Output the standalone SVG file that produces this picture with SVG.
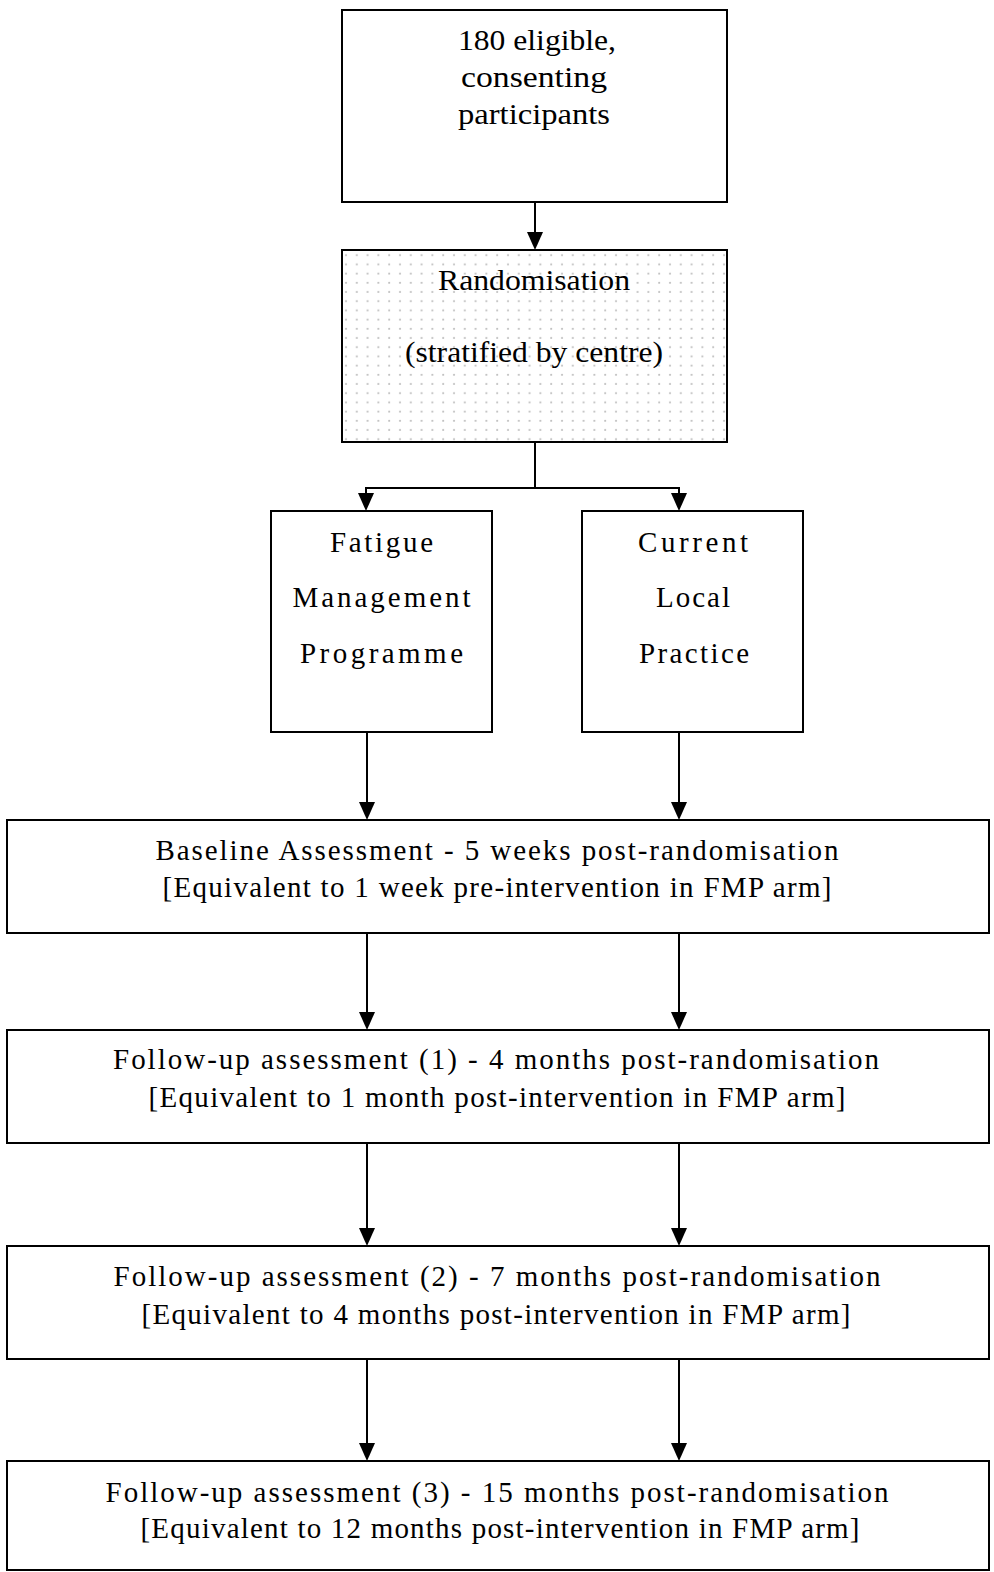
<svg xmlns="http://www.w3.org/2000/svg" width="994" height="1572" viewBox="0 0 994 1572">
<style>
.box{fill:#fff;stroke:#000;stroke-width:2}
.t{font-family:'Liberation Serif','Times New Roman',serif;font-size:29px;fill:#000;text-anchor:middle}
.c{fill:none;stroke:#000;stroke-width:2}
</style>
<defs>
<pattern id="dots" x="341" y="379.5" width="10.8" height="9.2" patternUnits="userSpaceOnUse">
<rect width="10.8" height="9.2" fill="#fff"/>
<circle cx="5" cy="4.5" r="1" fill="#bdbdbd"/>
</pattern>
</defs>
<g id="connectors">
<path class="c" d="M535,202 V232"/><path d="M527,232 L543,232 L535,250 Z"/>
<path class="c" d="M535,442 V488 M366,488 H679"/>
<path class="c" d="M366,487 V493"/><path d="M358,493 L374,493 L366,511 Z"/>
<path class="c" d="M679,487 V493"/><path d="M671,493 L687,493 L679,511 Z"/>
<path class="c" d="M367,732 V802"/><path d="M359,802 L375,802 L367,820 Z"/>
<path class="c" d="M679,732 V802"/><path d="M671,802 L687,802 L679,820 Z"/>
<path class="c" d="M367,933 V1012"/><path d="M359,1012 L375,1012 L367,1030 Z"/>
<path class="c" d="M679,933 V1012"/><path d="M671,1012 L687,1012 L679,1030 Z"/>
<path class="c" d="M367,1143 V1228"/><path d="M359,1228 L375,1228 L367,1246 Z"/>
<path class="c" d="M679,1143 V1228"/><path d="M671,1228 L687,1228 L679,1246 Z"/>
<path class="c" d="M367,1359 V1443"/><path d="M359,1443 L375,1443 L367,1461 Z"/>
<path class="c" d="M679,1359 V1443"/><path d="M671,1443 L687,1443 L679,1461 Z"/>
</g>
<g id="n1">
<rect class="box" x="342" y="10" width="385" height="192"/>
<text class="t" x="537" y="50" textLength="158" lengthAdjust="spacingAndGlyphs">180 eligible,</text>
<text class="t" x="534" y="87" textLength="146" lengthAdjust="spacingAndGlyphs">consenting</text>
<text class="t" x="534" y="124" textLength="152" lengthAdjust="spacingAndGlyphs">participants</text>
</g>
<g id="n2">
<rect x="342" y="250" width="385" height="192" fill="url(#dots)" stroke="#000" stroke-width="2"/>
<text class="t" x="534" y="290" textLength="192" lengthAdjust="spacingAndGlyphs">Randomisation</text>
<text class="t" x="534" y="362" textLength="258" lengthAdjust="spacingAndGlyphs">(stratified by centre)</text>
</g>
<g id="n3">
<rect class="box" x="271" y="511" width="221" height="221"/>
<text class="t" x="381.5" y="552" textLength="103" lengthAdjust="spacing">Fatigue</text>
<text class="t" x="381.5" y="607" textLength="178" lengthAdjust="spacing">Management</text>
<text class="t" x="381.5" y="663" textLength="163" lengthAdjust="spacing">Programme</text>
</g>
<g id="n4">
<rect class="box" x="582" y="511" width="221" height="221"/>
<text class="t" x="693" y="552" textLength="110" lengthAdjust="spacing">Current</text>
<text class="t" x="693" y="607" textLength="74" lengthAdjust="spacing">Local</text>
<text class="t" x="694" y="663" textLength="110" lengthAdjust="spacing">Practice</text>
</g>
<g id="n5">
<rect class="box" x="7" y="820" width="982" height="113"/>
<text class="t" x="497" y="860" textLength="683" lengthAdjust="spacing">Baseline Assessment - 5 weeks post-randomisation</text>
<text class="t" x="497" y="897" textLength="669" lengthAdjust="spacing">[Equivalent to 1 week pre-intervention in FMP arm]</text>
</g>
<g id="n6">
<rect class="box" x="7" y="1030" width="982" height="113"/>
<text class="t" x="496" y="1069" textLength="766" lengthAdjust="spacing">Follow-up assessment (1) - 4 months post-randomisation</text>
<text class="t" x="497" y="1107" textLength="697" lengthAdjust="spacing">[Equivalent to 1 month post-intervention in FMP arm]</text>
</g>
<g id="n7">
<rect class="box" x="7" y="1246" width="982" height="113"/>
<text class="t" x="497" y="1286" textLength="767" lengthAdjust="spacing">Follow-up assessment (2) - 7 months post-randomisation</text>
<text class="t" x="496" y="1324" textLength="709" lengthAdjust="spacing">[Equivalent to 4 months post-intervention in FMP arm]</text>
</g>
<g id="n8">
<rect class="box" x="7" y="1461" width="982" height="109"/>
<text class="t" x="497" y="1502" textLength="783" lengthAdjust="spacing">Follow-up assessment (3) - 15 months post-randomisation</text>
<text class="t" x="500" y="1538" textLength="719" lengthAdjust="spacing">[Equivalent to 12 months post-intervention in FMP arm]</text>
</g>
</svg>
